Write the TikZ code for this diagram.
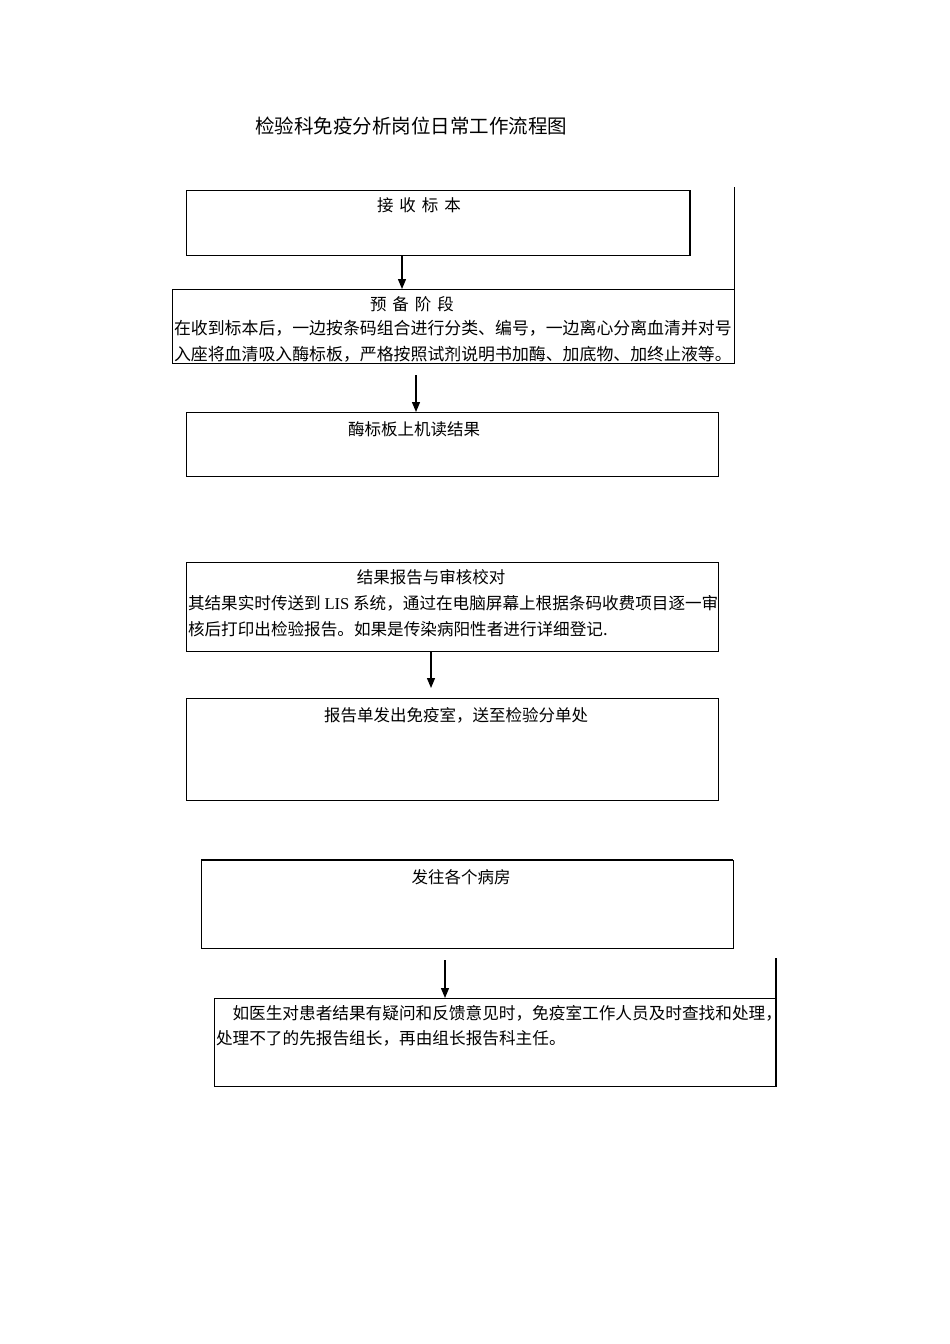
\documentclass[tikz,border=0pt]{standalone}
\usepackage{fontspec}
\setmainfont{Liberation Serif}
\newfontfamily\cjk{Noto Sans CJK SC}
\usetikzlibrary{arrows.meta}
\tikzset{
  box/.style={draw, line width=0.8pt, inner sep=0pt, outer sep=0pt},
  txt/.style={inner sep=0pt, outer sep=0pt, font=\cjk\fontsize{16.5}{25.5}\selectfont},
  arr/.style={line width=1.3pt, -{Triangle[length=10pt,width=8pt]}},
  edge/.style={line width=0.8pt}
}
\begin{document}
\begin{tikzpicture}[x=1pt,y=-1pt]
\useasboundingbox[fill=white] (0,0) rectangle (950,1344);
% title
\node[txt, font=\cjk\fontsize{19.5}{24}\selectfont] (title) at (411,126) {检验科免疫分析岗位日常工作流程图};
% boxes
\node[box, minimum width=504pt, minimum height=65pt] (b1) at (438,222.5) {};
\node[box, minimum width=562pt, minimum height=74pt] (b2) at (453,326) {};
\node[box, minimum width=532pt, minimum height=64pt] (b3) at (452,444) {};
\node[box, minimum width=532pt, minimum height=89pt] (b4) at (452,606.5) {};
\node[box, minimum width=532pt, minimum height=102pt] (b5) at (452,749) {};
\node[box, minimum width=532pt, minimum height=88pt] (b6) at (467,904) {};
\node[box, minimum width=562pt, minimum height=88pt] (b7) at (495,1042) {};
% heavier edges
\draw[line width=1.6pt] (b1.north east) -- (b1.south east);
\draw[line width=1.4pt] (b6.north west) -- (b6.north east);
\draw[line width=1.3pt] (b7.north east) -- (b7.south east);
% extra vertical lines at right
\coordinate (e1) at (734,187);
\coordinate (e2) at (776,958);
\draw[edge] (e1) -- (b2.north east);
\draw[line width=1.3pt] (e2) -- (b7.north east);
% texts
\node[txt] (t1) at (419,205) {接\hspace{6pt}收\hspace{6pt}标\hspace{6pt}本};
\node[txt] (t2h) at (412,304) {预\hspace{6pt}备\hspace{6pt}阶\hspace{6pt}段};
\node[txt, anchor=west, align=left, font=\cjk\fontsize{16.9}{25.5}\selectfont] (t2) at (174,341) {在收到标本后，一边按条码组合进行分类、编号，一边离心分离血清并对号\\入座将血清吸入酶标板，严格按照试剂说明书加酶、加底物、加终止液等。};
\node[txt] (t3) at (414,429) {酶标板上机读结果};
\node[txt] (t4h) at (431,577) {结果报告与审核校对};
\node[txt, anchor=west, align=left, font=\cjk\fontsize{16.6}{26}\selectfont] (t4) at (188,616) {其结果实时传送到 {\rmfamily LIS} 系统，通过在电脑屏幕上根据条码收费项目逐一审\\核后打印出检验报告。如果是传染病阳性者进行详细登记.};
\node[txt] (t5) at (456,715) {报告单发出免疫室，送至检验分单处};
\node[txt] (t6) at (461,877) {发往各个病房};
\node[txt, anchor=west, align=left, font=\cjk\fontsize{16.65}{25.5}\selectfont] (t7) at (216,1026) {\hspace{16.5pt}如医生对患者结果有疑问和反馈意见时，免疫室工作人员及时查找和处理，\\处理不了的先报告组长，再由组长报告科主任。};
% arrows
\coordinate (a1) at (402,0);
\coordinate (a2) at (416,375);
\coordinate (a3) at (431,688);
\coordinate (a4) at (445,960);
\draw[arr] (b1.south -| a1) -- (b2.north -| a1);
\draw[arr] (a2) -- (b3.north -| a2);
\draw[arr] (b4.south -| a3) -- (a3);
\draw[arr] (a4) -- (b7.north -| a4);
\end{tikzpicture}
\end{document}
